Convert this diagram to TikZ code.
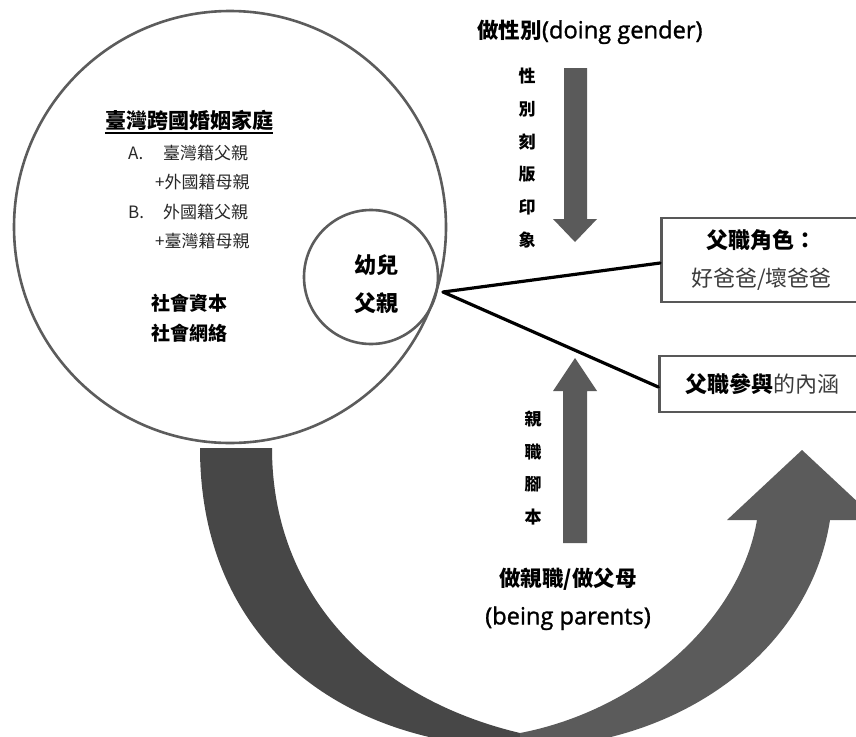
\documentclass[tikz,border=0pt]{standalone}
\usepackage{fontspec}
\setmainfont{Noto Sans CJK TC}
\newfontfamily\latin{Open Sans}[Scale=1.1, FakeBold=1.2]
\usetikzlibrary{positioning}

\definecolor{ringgray}{RGB}{92,92,92}
\definecolor{boxgray}{RGB}{88,88,88}
\definecolor{arrowgray}{RGB}{90,90,90}
\definecolor{bandleft}{RGB}{71,71,71}
\definecolor{bandright}{RGB}{91,91,91}
\definecolor{textgray}{RGB}{40,40,40}
\definecolor{lighttext}{RGB}{60,60,60}

\begin{document}
\begin{tikzpicture}[x=1pt, y=-1pt,
  every node/.style = {inner sep=0pt, align=center},
  ring/.style = {draw=ringgray, line width=2.6pt, circle},
  rolebox/.style = {draw=boxgray, line width=2.8pt, fill=white,
    font=\fontsize{22}{38}\selectfont},
  link/.style = {line width=3.2pt, line cap=round},
  vtext/.style = {font=\bfseries\fontsize{17}{32.8}\selectfont}]
  \useasboundingbox (0,0) rectangle (856,736);
  \fill[white] (0,0) rectangle (856,736);
  \clip (0,0) rectangle (856,736);

  % turning arrow below
  \fill[bandleft] (200,448) -- (272,448)
    .. controls (272,600) and (380,700) .. (520,733) -- (520,748)
    .. controls (340,745) and (200,640) .. (200,448) -- cycle;
  \fill[bandright] (520,733) .. controls (640,710) and (740,620) .. (757,520)
    -- (727,520) -- (802,450) -- (877,520) -- (830,520)
    .. controls (810,650) and (680,748) .. (520,748) -- cycle;

  % circles
  \node[ring, minimum size=432pt] (family) at (230,227) {};
  \node[ring, minimum size=134pt] (child) at (371,277) {};

  \node[font=\bfseries\fontsize{21}{21}\selectfont] (title) at (189,120) {臺灣跨國婚姻家庭};
  \draw[line width=1.6pt] ([yshift=-2.5pt]title.south west) -- ([yshift=-2.5pt]title.south east);
  \node[anchor=west, align=left, text=textgray,
    font=\fontsize{17}{29.5}\selectfont] (types) at (128,197)
    {\makebox[35pt][l]{A.}臺灣籍父親\\
     \hspace*{27pt}+外國籍母親\\
     \makebox[35pt][l]{B.}外國籍父親\\
     \hspace*{27pt}+臺灣籍母親};
  \node[font=\bfseries\fontsize{19}{30}\selectfont] (capital) at (189.5,318) {社會資本\\社會網絡};
  \node[font=\bfseries\fontsize{22}{38}\selectfont] (father) at (376,284) {幼兒\\父親};

  % doing gender
  \node[font=\fontsize{21.5}{21.5}\selectfont] (gender) at (590,32) {{\bfseries 做性別}{\latin(doing gender)}};
  \node[vtext] (stereo) at (527,158) {性\\別\\刻\\版\\印\\象};
  \fill[arrowgray] (564,68) -- (587,68) -- (587,219) -- (597,219)
    -- (575,242) -- (553,219) -- (564,219) -- cycle;

  % being parents
  \node[font=\fontsize{21.5}{38}\selectfont] (parents) at (568,599)
    {{\bfseries 做親職/做父母}\\{\latin(being parents)}};
  \node[vtext] (script) at (533,468) {親\\職\\腳\\本};
  \fill[arrowgray] (563,543) -- (587,543) -- (587,391) -- (597,391)
    -- (575,358) -- (553,391) -- (563,391) -- cycle;

  % boxes
  \node[rolebox, minimum width=200pt, minimum height=84pt] (fatherrole) at (761.5,260)
    {{\bfseries 父職角色：}\\{\color{lighttext}好爸爸/壞爸爸}};
  \node[rolebox, minimum width=206pt, minimum height=56pt] (involve) at (762.7,384)
    {{\bfseries 父職參與}{\color{lighttext}的內涵}};

  \coordinate (hub) at (443,292);
  \draw[link] (hub) -- ([yshift=-3pt]fatherrole.west);
  \draw[link] (hub) -- ([yshift=-3pt]involve.west);
\end{tikzpicture}
\end{document}
